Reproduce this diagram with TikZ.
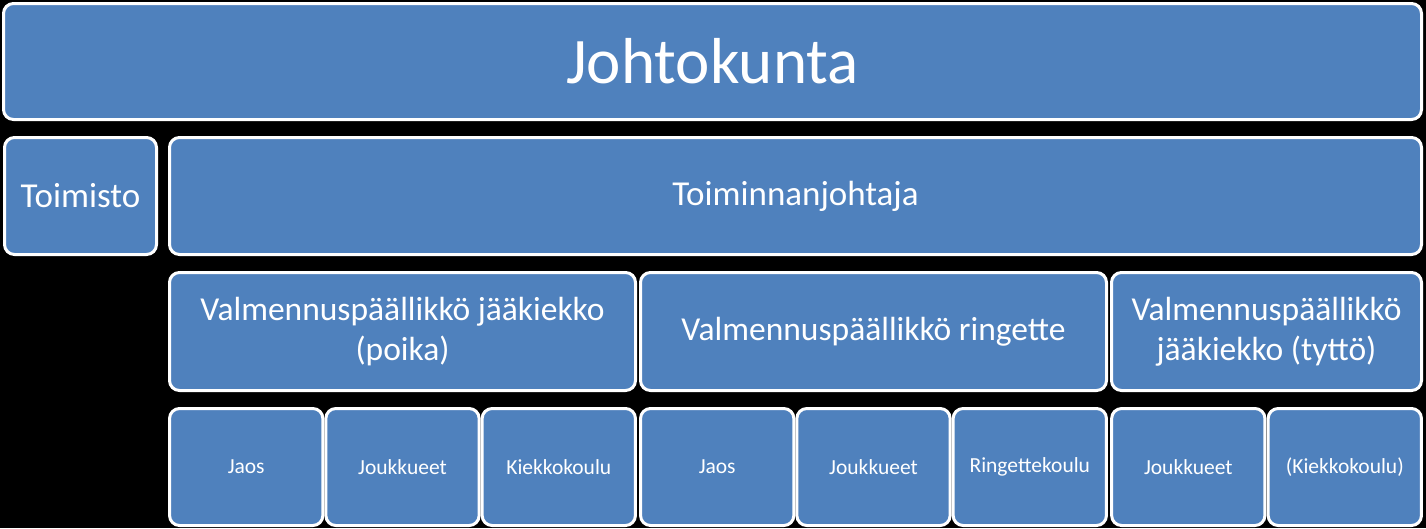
\documentclass[tikz,border=0pt]{standalone}
\usepackage{fontspec}
\setmainfont{Carlito}
\definecolor{boxblue}{HTML}{4F81BD}
\tikzset{
  box/.style={draw=white, line width=3pt, fill=boxblue, rounded corners=10pt,
    text=white, align=center, inner sep=0pt},
  bigtext/.style={font=\fontsize{65}{78}\selectfont},
  toptext/.style={font=\fontsize{35}{42}\selectfont},
  midtext/.style={font=\fontsize{33.5}{40}\selectfont},
  smalltext/.style={font=\fontsize{21.5}{26}\selectfont}
}
\begin{document}
\begin{tikzpicture}[x=1pt, y=-1pt]
\fill[black] (0,0) rectangle (1426,528);

% ylin taso
\node[box, bigtext, minimum width=1418pt, minimum height=116pt] (johtokunta) at (712.5,61.5) {Johtokunta};

\node[box, toptext, minimum width=152pt, minimum height=117pt] (toimisto) at (80.5,196) {Toimisto};
\node[box, toptext, minimum width=1252pt, minimum height=117pt] (tj) at (795.5,196) {Toiminnanjohtaja};

% valmennuspaallikot
\node[box, midtext, minimum width=466pt, minimum height=118pt] (vpoika) at (402.5,331.5) {Valmennuspäällikkö jääkiekko\\(poika)};
\node[box, midtext, minimum width=466pt, minimum height=118pt] (vringette) at (873.5,331.5) {Valmennuspäällikkö ringette};
\node[box, midtext, minimum width=310pt, minimum height=118pt] (vtytto) at (1266.5,331.5) {Valmennuspäällikkö\\jääkiekko (tyttö)};

% alin taso
\foreach \n/\x/\t in {jaosA/246.2/Jaos, joukA/402.5/Joukkueet, kouluA/558.8/Kiekkokoulu,
    jaosB/717.2/Jaos, joukB/873.5/Joukkueet, kouluB/1029.8/Ringettekoulu,
    joukC/1188.3/Joukkueet, kouluC/1344.8/(Kiekkokoulu)}
{
    \node[box, smalltext, minimum width=153.3pt, minimum height=117pt] (\n) at (\x,467) {\t};
}

\end{tikzpicture}
\end{document}
